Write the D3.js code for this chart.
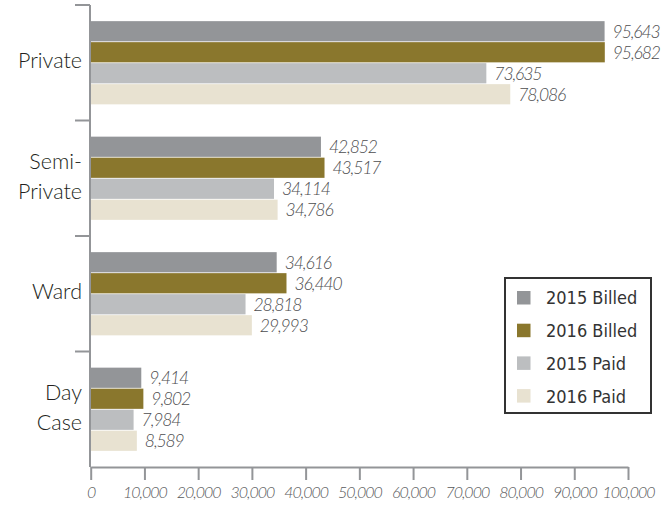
<!DOCTYPE html>
<html>
<head>
<meta charset="utf-8">
<script src="https://cdn.jsdelivr.net/npm/d3@7"></script>
<style>
  body { margin: 0; background: #fff; }
  svg { display: block; }
</style>
</head>
<body>
<svg></svg>
<script>
// chart values
var categories = ["Private", "Semi-Private", "Ward", "Day Case"]
var categoryLines = [["Private"], ["Semi-", "Private"], ["Ward"], ["Day", "Case"]]
var seriesNames = ["2015 Billed", "2016 Billed", "2015 Paid", "2016 Paid"]
var billed2015 = [95643, 42852, 34616, 9414]
var billed2016 = [95682, 43517, 36440, 9802]
var paid2015 = [73635, 34114, 28818, 7984]
var paid2016 = [78086, 34786, 29993, 8589]
var xTicks = [0, 10000, 20000, 30000, 40000, 50000, 60000, 70000, 80000, 90000, 100000]

var colors = ["#939598", "#8a772d", "#bcbec0", "#e8e2d1"]
var seriesValues = [billed2015, billed2016, paid2015, paid2016]

var screen = {width: 666, height: 505}
var axisColor = "#939598"

var svg = d3.select("svg")
    .attr("width", screen.width)
    .attr("height", screen.height)

var xScale = d3.scaleLinear()
    .domain([0, 100000])
    .range([90.7, 628])

var yScale = d3.scaleBand()
    .domain(categories)
    .range([5, 467])

var innerScale = d3.scaleBand()
    .domain(seriesNames)
    .range([0, 84])

var groupOffset = (yScale.bandwidth() - 84) / 2

// bars
var rows = []
categories.forEach(function(cat, ci) {
    seriesNames.forEach(function(s, si) {
        rows.push({cat: cat, series: s, value: seriesValues[si][ci], color: colors[si]})
    })
})

var bars = svg.append("g").attr("id", "bars")
bars.selectAll("rect")
    .data(rows)
    .enter()
    .append("rect")
    .attr("x", xScale(0))
    .attr("y", function(d) { return yScale(d.cat) + groupOffset + innerScale(d.series) + 0.4 })
    .attr("width", function(d) { return xScale(d.value) - xScale(0) })
    .attr("height", innerScale.bandwidth() - 0.8)
    .attr("fill", function(d) { return d.color })

// value labels
var fmt = d3.format(",")
bars.selectAll("text")
    .data(rows)
    .enter()
    .append("text")
    .attr("x", function(d) { return xScale(d.value) + 8 })
    .attr("y", function(d) { return yScale(d.cat) + groupOffset + innerScale(d.series) + innerScale.bandwidth() / 2 })
    .attr("dy", "0.36em")
    .attr("font-family", "Lato")
    .attr("font-weight", 300)
    .attr("font-style", "italic")
    .attr("font-size", 17.5)
    .attr("letter-spacing", -1.1)
    .attr("fill", "#4d4d4f")
    .text(function(d) { return fmt(d.value) })

// y axis
var yAxisG = svg.append("g").attr("id", "yAxis")
yAxisG.append("line")
    .attr("x1", 90).attr("x2", 90)
    .attr("y1", yScale.range()[0]).attr("y2", yScale.range()[1])
    .attr("stroke", axisColor).attr("stroke-width", 2)
yAxisG.selectAll(".tick")
    .data(categories)
    .enter()
    .append("line")
    .attr("class", "tick")
    .attr("x1", 75).attr("x2", 90)
    .attr("y1", function(d) { return yScale(d) })
    .attr("y2", function(d) { return yScale(d) })
    .attr("stroke", axisColor).attr("stroke-width", 2)

var catLabels = yAxisG.selectAll(".cat")
    .data(categories)
    .enter()
    .append("text")
    .attr("class", "cat")
    .attr("text-anchor", "end")
    .attr("font-family", "Lato")
    .attr("font-weight", 300)
    .attr("font-size", 21.5)
    .attr("fill", "#231f20")
catLabels.each(function(d, i) {
    var lines = categoryLines[i]
    var center = yScale(d) + yScale.bandwidth() / 2 - 2
    var lineH = 30
    var first = center - (lines.length - 1) * lineH / 2
    d3.select(this).selectAll("tspan")
        .data(lines)
        .enter()
        .append("tspan")
        .attr("x", 82)
        .attr("y", function(l, j) { return first + j * lineH })
        .attr("dy", "0.36em")
        .text(function(l) { return l })
})

// x axis
var xAxis = d3.axisBottom(xScale)
    .tickValues(xTicks)
    .tickSize(13)
    .tickSizeOuter(0)
    .tickPadding(7)
    .tickFormat(fmt)
var xAxisG = svg.append("g")
    .attr("id", "xAxis")
    .attr("transform", "translate(0," + yScale.range()[1] + ")")
    .call(xAxis)
xAxisG.select(".domain").attr("stroke", axisColor).attr("stroke-width", 2)
xAxisG.selectAll(".tick line").attr("stroke", axisColor).attr("stroke-width", 2)
xAxisG.selectAll(".tick text")
    .attr("font-family", "Lato")
    .attr("font-weight", 300)
    .attr("font-style", "italic")
    .attr("font-size", 16)
    .attr("letter-spacing", -1)
    .attr("fill", "#58595b")

// legend
var legend = svg.append("g").attr("id", "legend").attr("transform", "translate(505,278)")
legend.append("rect")
    .attr("width", 146).attr("height", 135)
    .attr("fill", "#fff")
    .attr("stroke", "#333").attr("stroke-width", 2)
var items = legend.selectAll(".item")
    .data(seriesNames)
    .enter()
    .append("g")
    .attr("class", "item")
    .attr("transform", function(d, i) { return "translate(12," + (13 + i * 32.7) + ")" })
items.append("rect")
    .attr("width", 13.5).attr("height", 13.5)
    .attr("fill", function(d, i) { return colors[i] })
items.append("text")
    .attr("x", 29)
    .attr("y", 7)
    .attr("dy", "0.36em")
    .attr("font-family", "'Liberation Sans Narrow', 'DejaVu Sans Condensed', 'Liberation Sans', sans-serif")
    .attr("font-stretch", "condensed")
    .attr("font-size", 18)
    .attr("fill", "#333")
    .text(function(d) { return d })
</script>
</body>
</html>
